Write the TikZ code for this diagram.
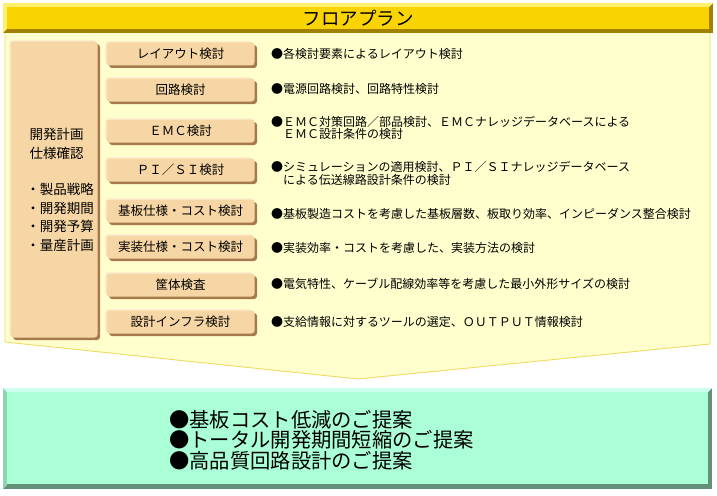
\documentclass[tikz,border=0pt]{standalone}
\usepackage{fontspec}
\setmainfont{Noto Sans CJK JP}
\definecolor{panelfill}{RGB}{255,255,206}
\definecolor{panelline}{RGB}{238,218,100}
\definecolor{tan}{RGB}{246,214,164}
\definecolor{tanlight}{RGB}{253,238,208}
\definecolor{tandark}{RGB}{166,122,76}
\definecolor{gold}{RGB}{250,212,0}
\definecolor{goldlight}{RGB}{255,240,110}
\definecolor{golddark}{RGB}{160,130,0}
\definecolor{mint}{RGB}{170,255,214}
\definecolor{mintlight}{RGB}{205,255,240}
\definecolor{mintmid}{RGB}{140,214,178}
\definecolor{mintdark}{RGB}{98,144,120}
\begin{document}
\begin{tikzpicture}[x=1pt,y=-1pt,
  bevelbox/.style={rectangle, rounded corners=3pt, inner sep=0pt, fill=tan,
    preaction={fill=tanlight, transform canvas={shift={(-1.5pt,1.5pt)}}},
    preaction={fill=tandark, transform canvas={shift={(2.5pt,-2.5pt)}}}},
  btn/.style={bevelbox, minimum width=148pt, minimum height=23pt,
    font=\fontsize{12.5}{14}\selectfont},
  desc/.style={anchor=west, inner sep=0pt, align=left,
    font=\fontsize{12}{12.5}\selectfont},
  lefttext/.style={inner sep=0pt, align=left, font=\fontsize{13.5}{18.5}\selectfont}]
\useasboundingbox (0,0) rectangle (717,495);
% panel with chevron
\fill[panelfill] (5,30) -- (5,342) -- (358,379) -- (710,344) -- (710,30) -- cycle;
\draw[panelline, line width=0.9pt] (5,30) -- (5,342) -- (358,379) -- (710,344) -- (710,30);
% title bar
\fill[golddark] (3,3) rectangle (713,33);
\fill[goldlight] (3,3) -- (713,3) -- (709,7) -- (7,7) -- (7,29) -- (3,33) -- cycle;
\node[fill=gold, minimum width=702pt, minimum height=22pt, inner sep=0pt,
  font=\fontsize{18.5}{20}\selectfont] (title) at (358,18) {フロアプラン};
% left box
\node[bevelbox, minimum width=87pt, minimum height=296pt] (leftbox) at (54,189.5) {};
\node[lefttext, align=center] (lt1) at (56.5,144) {開発計画\\仕様確認};
\node[lefttext] (lt2) at (60,217.5) {・製品戦略\\・開発期間\\・開発予算\\・量産計画};
% buttons
\node[btn] (b1) at (180.5,54) {レイアウト検討};
\node[btn] (b2) at (180.5,90) {回路検討};
\node[btn] (b3) at (180.5,131) {ＥＭＣ検討};
\node[btn] (b4) at (180.5,170) {ＰＩ／ＳＩ検討};
\node[btn] (b5) at (180.5,211) {基板仕様・コスト検討};
\node[btn] (b6) at (180.5,247) {実装仕様・コスト検討};
\node[btn] (b7) at (180.5,285) {筐体検査};
\node[btn] (b8) at (180.5,322) {設計インフラ検討};
% descriptions
\node[desc] (d1) at (271,54) {●各検討要素によるレイアウト検討};
\node[desc] (d2) at (271,89) {●電源回路検討、回路特性検討};
\node[desc] (d3) at (271,128) {●ＥＭＣ対策回路／部品検討、ＥＭＣナレッジデータベースによる\\\hspace*{1em}ＥＭＣ設計条件の検討};
\node[desc] (d4) at (271,173.5) {●シミュレーションの適用検討、ＰＩ／ＳＩナレッジデータベース\\\hspace*{1em}による伝送線路設計条件の検討};
\node[desc] (d5) at (271,213.5) {●基板製造コストを考慮した基板層数、板取り効率、インピーダンス整合検討};
\node[desc] (d6) at (271,248) {●実装効率・コストを考慮した、実装方法の検討};
\node[desc] (d7) at (271,284) {●電気特性、ケーブル配線効率等を考慮した最小外形サイズの検討};
\node[desc] (d8) at (271,322) {●支給情報に対するツールの選定、ＯＵＴＰＵＴ情報検討};
% green result box
\fill[mintdark] (3,388) rectangle (712,489);
\fill[mintmid] (3,388) -- (7,392) -- (7,485) -- (3,489) -- cycle;
\fill[mintlight] (3,388) -- (712,388) -- (708,392) -- (7,392) -- cycle;
\node[fill=mint, minimum width=701pt, minimum height=92pt, inner sep=0pt] (gbox) at (357,438) {};
\node[anchor=west, inner sep=0pt, align=left, font=\fontsize{20.3}{20.3}\selectfont] (gtext) at (169,440)
  {●基板コスト低減のご提案\\●トータル開発期間短縮のご提案\\●高品質回路設計のご提案};
\end{tikzpicture}
\end{document}
